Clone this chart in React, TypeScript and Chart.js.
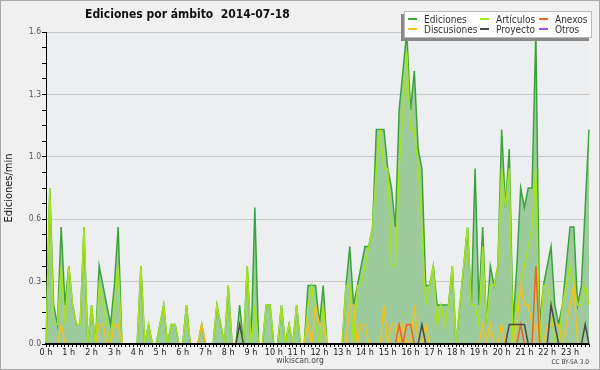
import React, { useEffect, useRef } from 'react';
import { Chart, registerables } from 'chart.js';

Chart.register(...registerables);

// 10-minute bins over the day (144 bins), values in edits per minute
const HOUR_LABELS = ['0 h','1 h','2 h','3 h','4 h','5 h','6 h','7 h','8 h','9 h','10 h','11 h','12 h','13 h','14 h','15 h','16 h','17 h','18 h','19 h','20 h','21 h','22 h','23 h'];
const BINS_PER_HOUR = 6;
const BIN_LABELS: string[] = [];
HOUR_LABELS.forEach((_, h) => {
  for (let m = 0; m < BINS_PER_HOUR; m++) BIN_LABELS.push(`${h}:${m}0`);
});

const Y_TICKS = [0,0.08,0.16,0.24,0.32,0.4,0.48,0.56,0.64,0.72,0.8,0.88,0.96,1.04,1.12,1.2,1.28,1.36,1.44,1.52,1.6];

const EDICIONES = [
  0, 0.8, 0.2, 0.1, 0.6, 0.2, 0.4, 0.2, 0.1, 0.1, 0.6, 0,
  0.2, 0, 0.4, 0.3, 0.2, 0.1, 0.3, 0.6, 0, 0, 0, 0,
  0, 0.4, 0, 0.1, 0, 0, 0.1, 0.2, 0, 0.1, 0.1, 0,
  0, 0.2, 0, 0, 0, 0.1, 0, 0, 0, 0.2, 0.1, 0,
  0.3, 0, 0, 0.2, 0, 0.4, 0, 0.7, 0, 0, 0.2, 0.2,
  0, 0, 0.2, 0, 0.1, 0, 0.2, 0, 0, 0.3, 0.3, 0.3,
  0.1, 0.3, 0, 0, 0, 0, 0, 0.3, 0.5, 0.2, 0.3, 0.4,
  0.5, 0.5, 0.6, 1.1, 1.1, 1.1, 0.9, 0.8, 0.6, 1.2, 1.4, 1.6,
  1.2, 1.4, 1.0, 0.9, 0.3, 0.3, 0.4, 0.2, 0.2, 0.2, 0.2, 0.4,
  0, 0.2, 0.4, 0.6, 0.2, 0.9, 0.2, 0.6, 0.1, 0.4, 0.3, 0.4,
  1.1, 0.7, 1.0, 0.1, 0.4, 0.8, 0.7, 0.8, 0.8, 1.6, 0.1, 0.3,
  0.4, 0.5, 0.2, 0.1, 0.2, 0.4, 0.6, 0.6, 0.2, 0.3, 0.7, 1.1,
];

const ARTICULOS = [
  0, 0.8, 0.1, 0.1, 0.4, 0.1, 0.4, 0.2, 0.1, 0.1, 0.6, 0,
  0.2, 0, 0.3, 0.2, 0.1, 0, 0.2, 0.4, 0, 0, 0, 0,
  0, 0.4, 0, 0.1, 0, 0, 0.1, 0.2, 0, 0.1, 0.1, 0,
  0, 0.2, 0, 0, 0, 0, 0, 0, 0, 0.2, 0.1, 0,
  0.3, 0, 0, 0.1, 0, 0.4, 0, 0.2, 0, 0, 0.2, 0.2,
  0, 0, 0.2, 0, 0.1, 0, 0.2, 0, 0, 0.2, 0.3, 0.1,
  0, 0.2, 0, 0, 0, 0, 0, 0.3, 0.3, 0, 0.3, 0.3,
  0.4, 0.5, 0.6, 0.9, 1.1, 0.9, 0.9, 0.4, 0.4, 0.9, 1.2, 1.5,
  1.1, 1.1, 0.9, 0.6, 0.2, 0.3, 0.4, 0.1, 0.2, 0.1, 0.2, 0.4,
  0, 0.2, 0.4, 0.6, 0.2, 0.2, 0.1, 0.5, 0.1, 0.3, 0.3, 0.4,
  0.9, 0.7, 0.9, 0, 0.2, 0.3, 0.4, 0.5, 0.6, 0.9, 0, 0.3,
  0.3, 0.2, 0, 0, 0.2, 0.3, 0.4, 0.3, 0.2, 0.2, 0.3, 0.2,
];

const ANEXOS = [
  0, 0, 0, 0, 0, 0, 0, 0, 0, 0, 0, 0,
  0, 0, 0, 0, 0, 0, 0, 0, 0, 0, 0, 0,
  0, 0, 0, 0, 0, 0, 0, 0, 0, 0, 0, 0,
  0, 0, 0, 0, 0, 0, 0, 0, 0, 0, 0, 0,
  0, 0, 0, 0, 0, 0, 0, 0, 0, 0, 0, 0,
  0, 0, 0, 0, 0, 0, 0, 0, 0, 0, 0, 0,
  0, 0, 0, 0, 0, 0, 0, 0, 0, 0, 0, 0,
  0, 0, 0, 0, 0, 0, 0, 0, 0, 0.1, 0, 0.1,
  0.1, 0, 0, 0, 0, 0, 0, 0, 0, 0, 0, 0,
  0, 0, 0, 0, 0, 0, 0, 0, 0, 0, 0, 0,
  0, 0, 0, 0, 0, 0.1, 0, 0, 0, 0.4, 0, 0,
  0, 0, 0, 0, 0, 0, 0, 0, 0, 0, 0, 0,
];

const DISCUSIONES = [
  0, 0, 0, 0, 0.1, 0, 0, 0, 0, 0, 0, 0,
  0, 0, 0.1, 0.1, 0, 0, 0.1, 0.1, 0, 0, 0, 0,
  0, 0, 0, 0, 0, 0, 0, 0, 0, 0, 0, 0,
  0, 0, 0, 0, 0, 0.1, 0, 0, 0, 0, 0, 0,
  0, 0, 0, 0, 0, 0, 0, 0, 0, 0, 0, 0,
  0, 0, 0, 0, 0, 0, 0, 0, 0, 0.1, 0, 0.2,
  0.1, 0.1, 0, 0, 0, 0, 0, 0, 0.2, 0.2, 0, 0.1,
  0.1, 0, 0, 0, 0, 0.2, 0, 0.1, 0.1, 0, 0.1, 0,
  0, 0.2, 0, 0, 0.1, 0, 0, 0, 0, 0, 0, 0,
  0, 0, 0, 0, 0, 0, 0, 0.1, 0, 0.1, 0, 0,
  0.1, 0, 0, 0, 0.1, 0.3, 0.2, 0.2, 0.1, 0.1, 0, 0,
  0.1, 0.1, 0.1, 0.1, 0, 0.1, 0.2, 0.3, 0, 0, 0, 0,
];

const PROYECTO = [
  0, 0, 0, 0, 0, 0, 0, 0, 0, 0, 0, 0,
  0, 0, 0, 0, 0, 0, 0, 0, 0, 0, 0, 0,
  0, 0, 0, 0, 0, 0, 0, 0, 0, 0, 0, 0,
  0, 0, 0, 0, 0, 0, 0, 0, 0, 0, 0, 0,
  0, 0, 0, 0.1, 0, 0, 0, 0, 0, 0, 0, 0,
  0, 0, 0, 0, 0, 0, 0, 0, 0, 0, 0, 0,
  0, 0, 0, 0, 0, 0, 0, 0, 0, 0, 0, 0,
  0, 0, 0, 0, 0, 0, 0, 0, 0, 0, 0, 0,
  0, 0, 0, 0.1, 0, 0, 0, 0, 0, 0, 0, 0,
  0, 0, 0, 0, 0, 0, 0, 0, 0, 0, 0, 0,
  0, 0, 0.1, 0.1, 0.1, 0.1, 0.1, 0, 0, 0, 0, 0,
  0, 0.2, 0.1, 0, 0, 0, 0, 0, 0, 0, 0.1, 0,
];

const OTROS = [
  0, 0, 0, 0, 0, 0, 0, 0, 0, 0, 0, 0,
  0, 0, 0, 0, 0, 0, 0, 0, 0, 0, 0, 0,
  0, 0, 0, 0, 0, 0, 0, 0, 0, 0, 0, 0,
  0, 0, 0, 0, 0, 0, 0, 0, 0, 0, 0, 0,
  0, 0, 0, 0, 0, 0, 0, 0, 0, 0, 0, 0,
  0, 0, 0, 0, 0, 0, 0, 0, 0, 0, 0, 0,
  0, 0, 0, 0, 0, 0, 0, 0, 0, 0, 0, 0,
  0, 0, 0, 0, 0, 0, 0, 0, 0, 0, 0, 0,
  0, 0, 0, 0, 0, 0, 0, 0, 0, 0, 0, 0,
  0, 0, 0, 0, 0, 0, 0, 0, 0, 0, 0, 0,
  0, 0, 0, 0, 0, 0, 0, 0, 0, 0, 0, 0,
  0, 0, 0, 0, 0, 0, 0, 0, 0, 0, 0, 0,
];

const COLORS = {
  ediciones: '#3aa43a',
  edicionesFill: '#9ecb9e',
  articulos: '#a6e41c',
  anexos: '#f0622a',
  discusiones: '#f2c21e',
  proyecto: '#4a4a4a',
  otros: '#9a4ef0',
};

const FONT = "'DejaVu Sans Condensed', 'DejaVu Sans', sans-serif";

const LEGEND = [
  { label: 'Ediciones', color: COLORS.ediciones, col: 0, row: 0 },
  { label: 'Artículos', color: COLORS.articulos, col: 1, row: 0 },
  { label: 'Anexos', color: COLORS.anexos, col: 2, row: 0 },
  { label: 'Discusiones', color: COLORS.discusiones, col: 0, row: 1 },
  { label: 'Proyecto', color: COLORS.proyecto, col: 1, row: 1 },
  { label: 'Otros', color: COLORS.otros, col: 2, row: 1 },
];
const LEGEND_COL_X = [408, 480, 539];
const LEGEND_ROW_Y = [19, 29];

const framePlugin = {
  id: 'frame',
  beforeDraw(chart: any) {
    const { ctx, chartArea: a } = chart;
    ctx.save();
    ctx.fillStyle = '#edeef0';
    ctx.fillRect(a.left, a.top, a.right - a.left, a.bottom - a.top);
    ctx.restore();
  },
  afterDatasetsDraw(chart: any) {
    const { ctx, chartArea: a } = chart;
    ctx.save();
    ctx.fillStyle = '#000';
    ctx.fillRect(a.left - 1, a.bottom - 1, a.right - a.left + 1, 2);
    ctx.restore();
  },
};

function line(label: string, data: number[], color: string, order: number, extra: any = {}) {
  return {
    label,
    data,
    borderColor: color,
    borderWidth: 1.5,
    pointRadius: 0,
    tension: 0,
    fill: false,
    order,
    ...extra,
  };
}

export default function App() {
  const ref = useRef<HTMLCanvasElement>(null);

  useEffect(() => {
    document.body.style.margin = '0';
    const chart = new Chart(ref.current as HTMLCanvasElement, {
      type: 'line',
      data: {
        labels: BIN_LABELS,
        datasets: [
          line('Otros', OTROS, COLORS.otros, 0),
          line('Proyecto', PROYECTO, COLORS.proyecto, 1),
          line('Anexos', ANEXOS, COLORS.anexos, 2),
          line('Discusiones', DISCUSIONES, COLORS.discusiones, 3),
          line('Artículos', ARTICULOS, COLORS.articulos, 4),
          line('Ediciones', EDICIONES, COLORS.ediciones, 5, {
            fill: 'origin',
            backgroundColor: COLORS.edicionesFill,
          }),
        ] as any,
      },
      options: {
        responsive: false,
        maintainAspectRatio: false,
        animation: false,
        layout: { padding: { top: 32, right: 11, left: 0, bottom: 0 } },
        plugins: {
          legend: { display: false },
          tooltip: { enabled: false },
          title: { display: false },
        },
        scales: {
          x: {
            type: 'category',
            offset: false,
            afterFit: (s: any) => { s.height = 26; },
            ticks: {
              autoSkip: false,
              maxRotation: 0,
              minRotation: 0,
              padding: 0,
              color: '#222',
              font: { family: FONT, size: 9 },
              callback: (_v: any, i: number) => (i % BINS_PER_HOUR === 0 ? HOUR_LABELS[i / BINS_PER_HOUR] : ''),
            },
            grid: { drawOnChartArea: false, tickColor: '#000', tickLength: 3, offset: false },
            border: { color: '#000', width: 1 },
          },
          y: {
            min: 0,
            max: 1.6,
            afterBuildTicks: (s: any) => { s.ticks = Y_TICKS.map((v) => ({ value: v })); },
            afterFit: (s: any) => { s.width = 46; },
            ticks: {
              autoSkip: false,
              padding: 1,
              color: '#555',
              font: { family: FONT, size: 8.5 },
              callback: (v: any, i: number) => (i % 4 === 0 ? Number(v).toFixed(1) : ''),
            },
            grid: {
              color: (c: any) => (c.index % 4 === 0 ? '#c9c9c9' : 'rgba(0,0,0,0)'),
              tickColor: '#000',
              tickLength: 4,
            },
            border: { color: '#000', width: 1 },
            title: {
              display: true,
              text: 'Ediciones/min',
              color: '#111',
              font: { family: FONT, size: 11 },
              padding: { top: 3, bottom: 0 },
            },
          },
        },
      },
      plugins: [framePlugin],
    } as any);
    return () => chart.destroy();
  }, []);

  return (
    <div style={{ position: 'relative', width: 600, height: 370, background: '#f0f0f0', overflow: 'hidden', fontFamily: FONT }}>
      <div style={{ position: 'absolute', left: 0, top: 0, width: 600, height: 370, border: '1px solid #a8a8a8', boxSizing: 'border-box' }} />
      <canvas ref={ref} width={600} height={370} style={{ position: 'absolute', left: 0, top: 0, width: 600, height: 370 }} />
      <div style={{ position: 'absolute', left: 85, top: 8, fontSize: 12, lineHeight: '12px', fontWeight: 'bold', whiteSpace: 'pre', color: '#111' }}>
        {'Ediciones por ámbito  2014-07-18'}
      </div>
      <div style={{ position: 'absolute', left: 404, top: 11, width: 188, height: 27, background: '#fdfdfd', border: '1px solid #bbb', boxSizing: 'border-box', boxShadow: '-3px 3px 0 #8a8a8a' }} />
      {LEGEND.map((e) => (
        <React.Fragment key={e.label}>
          <div style={{ position: 'absolute', left: LEGEND_COL_X[e.col], top: LEGEND_ROW_Y[e.row] - 1, width: 9, height: 1.5, background: e.color }} />
          <div style={{ position: 'absolute', left: LEGEND_COL_X[e.col] + 16, top: LEGEND_ROW_Y[e.row] - 4.5, fontSize: 10, lineHeight: '10px', color: '#333', whiteSpace: 'pre' }}>
            {e.label}
          </div>
        </React.Fragment>
      ))}
      <div style={{ position: 'absolute', left: 0, width: 600, top: 356, textAlign: 'center', fontSize: 8.5, lineHeight: '9px', color: '#444' }}>wikiscan.org</div>
      <div style={{ position: 'absolute', right: 11, top: 359, fontSize: 6.5, lineHeight: '7px', color: '#444', whiteSpace: 'pre' }}>CC BY-SA 3.0</div>
    </div>
  );
}
